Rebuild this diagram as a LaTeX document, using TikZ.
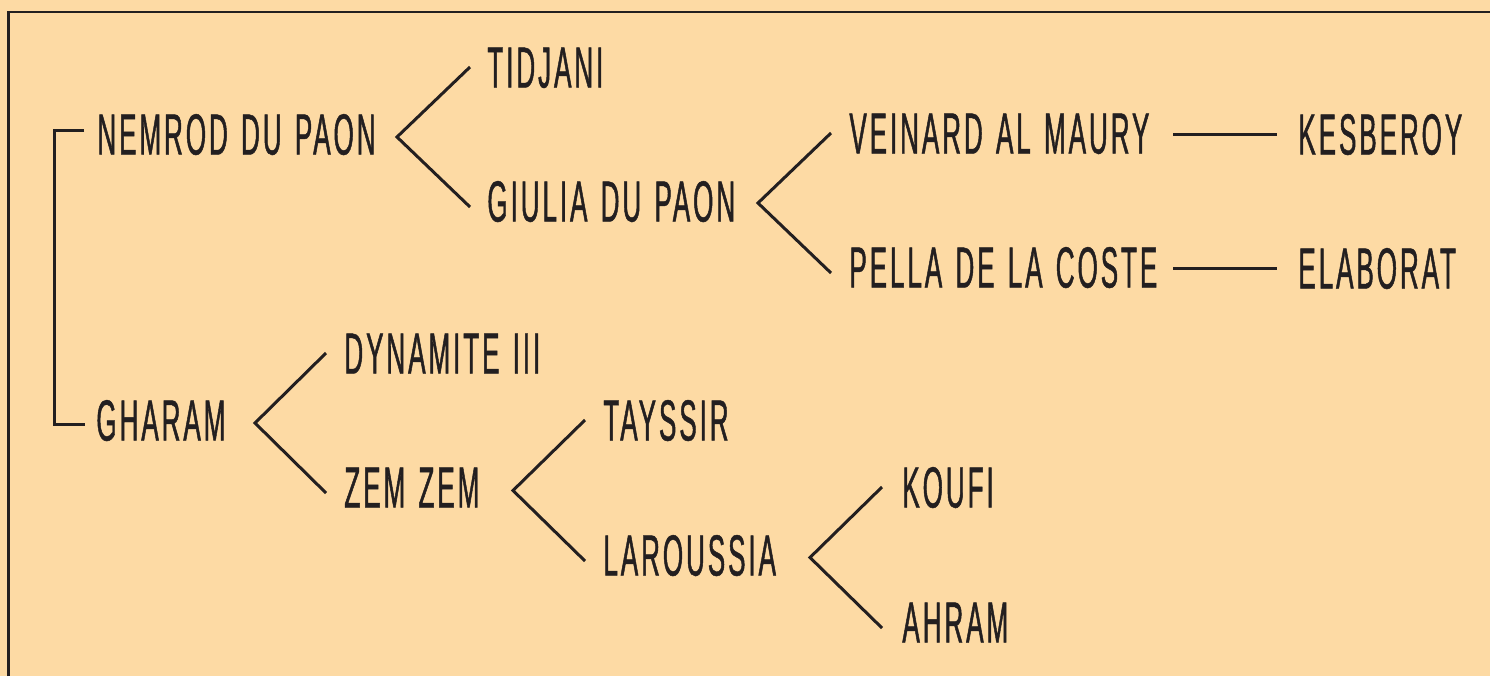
\documentclass[tikz,border=0pt]{standalone}
\usepackage{fontspec}
\setmainfont{Liberation Sans}[FakeStretch=0.45,LetterSpace=5,FakeBold=0.8,WordSpace=1.3]
\usetikzlibrary{calc}
\definecolor{peach}{RGB}{253,218,164}
\definecolor{ink}{RGB}{35,31,32}
\tikzset{
  horse/.style={anchor=west, inner sep=0pt, text height=20.5pt, text depth=0pt,
    text=ink, font=\fontsize{29pt}{29pt}\selectfont},
  link/.style={draw=ink, line width=1.5pt}
}
\begin{document}
\begin{tikzpicture}[x=0.5pt,y=-0.5pt]
  \fill[peach] (0,0) rectangle (1490,676);
  \useasboundingbox (0,0) rectangle (1490,676);
  \draw[ink, line width=1.2pt] (8.5,676) -- (8.5,12) -- (1490,12);
  \node[horse] (nemrod) at (97,134) {NEMROD DU PAON};
  \node[horse] (tidjani) at (487,67) {TIDJANI};
  \node[horse] (giulia) at (487,201) {GIULIA DU PAON};
  \node[horse] (veinard) at (849,133) {VEINARD AL MAURY};
  \node[horse] (pella) at (849,267) {PELLA DE LA COSTE};
  \node[horse] (kesberoy) at (1298,134) {KESBEROY};
  \node[horse] (elaborat) at (1298,268) {ELABORAT};
  \node[horse] (gharam) at (96,420) {GHARAM};
  \node[horse] (dynamite) at (344,353) {DYNAMITE III};
  \node[horse] (zemzem) at (344,487) {ZEM ZEM};
  \node[horse] (tayssir) at (603,420) {TAYSSIR};
  \node[horse] (laroussia) at (603,555) {LAROUSSIA};
  \node[horse] (koufi) at (902,487) {KOUFI};
  \node[horse] (ahram) at (902,622) {AHRAM};
  % sire and dam
  \draw[link] ([xshift=-6.5pt,yshift=2pt]nemrod.west) -- ++(-15pt,0)
    |- ([xshift=-5.5pt,yshift=-2pt]gharam.west);
  \draw[link] ([xshift=-8.5pt]tidjani.west)
    -- ($(tidjani.west)!.5!(giulia.west)+(-45pt,-1.5pt)$)
    -- ([xshift=-8.5pt,yshift=-3pt]giulia.west);
  \draw[link] ([xshift=-9pt]veinard.west)
    -- ($(veinard.west)!.5!(pella.west)+(-45.5pt,-1.5pt)$)
    -- ([xshift=-9pt,yshift=-3pt]pella.west);
  \draw[link] ([xshift=-9pt]dynamite.west)
    -- ($(dynamite.west)!.5!(zemzem.west)+(-44.5pt,-1.5pt)$)
    -- ([xshift=-9pt,yshift=-3pt]zemzem.west);
  \draw[link] ([xshift=-9pt]tayssir.west)
    -- ($(tayssir.west)!.5!(laroussia.west)+(-45pt,-1.5pt)$)
    -- ([xshift=-9pt,yshift=-3pt]laroussia.west);
  \draw[link] ([xshift=-10pt]koufi.west)
    -- ($(koufi.west)!.5!(ahram.west)+(-46pt,-1.5pt)$)
    -- ([xshift=-10pt,yshift=-3pt]ahram.west);
  % single lines
  \draw[link] ([xshift=-62.5pt]kesberoy.west) -- ([xshift=-10.5pt]kesberoy.west);
  \draw[link] ([xshift=-62.5pt]elaborat.west) -- ([xshift=-10.5pt]elaborat.west);
\end{tikzpicture}
\end{document}
